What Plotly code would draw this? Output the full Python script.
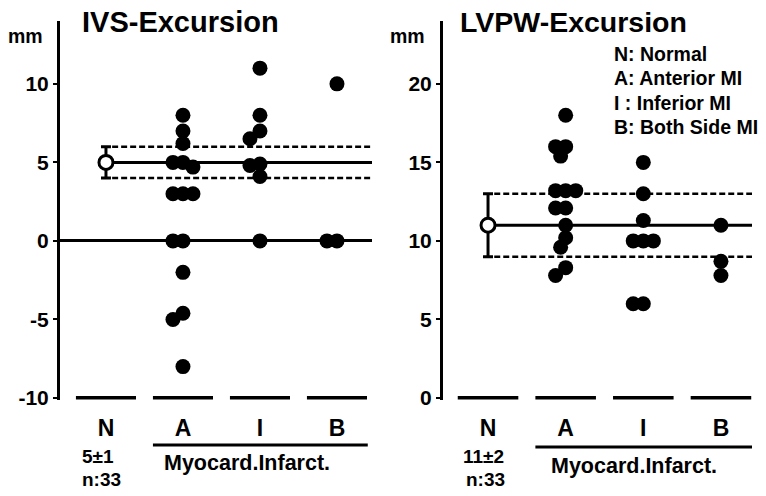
import numpy as np
import plotly.graph_objects as go

# Kategorien
categories = ["N", "A", "I", "B"]

# IVS-Excursion (mm)
ivs_normal_mean = 5
ivs_normal_sd = 1
ivs_anterior = [8, 7, 6.2, 5, 5, 4.7, 3, 3, 3, 0, 0, -2, -4.6, -5, -8]
ivs_inferior = [11, 8, 7, 6.5, 4.9, 4.8, 4.1, 0]
ivs_both = [10, 0, 0]
ivs_ticks = [-10, -5, 0, 5, 10]

# LVPW-Excursion (mm)
lvpw_normal_mean = 11
lvpw_normal_sd = 2
lvpw_anterior = [18, 16, 16, 15.4, 13.2, 13.2, 13.2, 12.1, 12.1, 11, 10.2, 9.6, 8.3, 7.8]
lvpw_inferior = [15, 13, 11.3, 10, 10, 10, 6, 6]
lvpw_both = [11, 8.7, 7.8]
lvpw_ticks = [0, 5, 10, 15, 20]

n_normal = 33
legend_lines = ["N: Normal", "A: Anterior MI", "I : Inferior MI", "B: Both Side MI"]

FONT = "Liberation Sans"
W, H = 766, 496

# Pixel-Skalen fuer den Beeswarm
PX_X = 77.0
PX_Y = 15.7
DMIN = 10.0
STEP = 5.0


def swarm(values, center):
    placed = []
    xs = []
    for v in values:
        cands = [0.0]
        for k in range(1, 12):
            cands += [-k * STEP, k * STEP]
        for off in cands:
            if all(np.hypot(off - po, (v - pv) * PX_Y) >= DMIN for po, pv in placed):
                break
        placed.append((off, v))
        xs.append(center + off / PX_X)
    return xs


def py(p):
    return 1 - p / H


def px(p):
    return p / W


def fnt(size):
    return dict(size=size, family=FONT, color="black", weight="bold")


panels = [
    dict(xa="x", ya="y", mean=ivs_normal_mean, sd=ivs_normal_sd,
         groups=[ivs_anterior, ivs_inferior, ivs_both], ymin=-10, ticks=ivs_ticks,
         xrange=[-0.597, 3.455], yrange=[-10.1, 14], xdom=[px(60), px(372)]),
    dict(xa="x2", ya="y2", mean=lvpw_normal_mean, sd=lvpw_normal_sd,
         groups=[lvpw_anterior, lvpw_inferior, lvpw_both], ymin=0, ticks=lvpw_ticks,
         xrange=[-0.58, 3.40], yrange=[-0.1, 24], xdom=[px(443), px(752)]),
]

fig = go.Figure()

for p in panels:
    x_end = p["xrange"][1]
    # Normalbereich: Mittelwert und +-SD
    fig.add_trace(go.Scatter(x=[0, x_end], y=[p["mean"]] * 2, mode="lines",
                             line=dict(color="black", width=3),
                             xaxis=p["xa"], yaxis=p["ya"], showlegend=False))
    for yv in (p["mean"] + p["sd"], p["mean"] - p["sd"]):
        fig.add_trace(go.Scatter(x=[0.08, x_end], y=[yv, yv], mode="lines",
                                 line=dict(color="black", width=2.5, dash="6px,3px"),
                                 xaxis=p["xa"], yaxis=p["ya"], showlegend=False))
    # Grundlinie unter jeder Kategorie
    bx, by = [], []
    for i in range(len(categories)):
        bx += [i - 0.39, i + 0.39, None]
        by += [p["ymin"], p["ymin"], None]
    fig.add_trace(go.Scatter(x=bx, y=by, mode="lines", line=dict(color="black", width=4),
                             xaxis=p["xa"], yaxis=p["ya"], showlegend=False))
    # Einzelwerte
    for i, vals in enumerate(p["groups"], start=1):
        fig.add_trace(go.Scatter(x=swarm(vals, i), y=vals, mode="markers",
                                 marker=dict(size=15, color="black"),
                                 xaxis=p["xa"], yaxis=p["ya"], showlegend=False))
    # Normalgruppe
    fig.add_trace(go.Scatter(x=[0], y=[p["mean"]], mode="markers",
                             marker=dict(size=14, color="white", line=dict(color="black", width=3)),
                             error_y=dict(type="constant", value=p["sd"], thickness=3, width=5,
                                          color="black"),
                             xaxis=p["xa"], yaxis=p["ya"], showlegend=False))

ydom = [0.1944, py(21)]


def xaxis(p):
    return dict(domain=p["xdom"], range=p["xrange"], tickvals=list(range(len(categories))),
                ticktext=categories, showline=False, ticks="", showgrid=False, zeroline=False,
                tickfont=fnt(23), ticklabelstandoff=12, anchor=p["ya"], automargin=False)


def yaxis(p, zero):
    return dict(domain=ydom, range=p["yrange"], tickvals=p["ticks"],
                ticktext=[str(t) for t in p["ticks"]], ticks="outside", ticklen=4, tickwidth=2,
                tickcolor="black", showline=True, linewidth=3, linecolor="black",
                showgrid=False, zeroline=zero, zerolinecolor="black", zerolinewidth=3,
                tickfont=fnt(21), anchor=p["xa"], automargin=False)


fig.update_layout(
    width=W, height=H, margin=dict(l=0, r=0, t=0, b=0, autoexpand=False),
    plot_bgcolor="white", paper_bgcolor="white",
    font=dict(family=FONT, color="black"),
    xaxis=xaxis(panels[0]), yaxis=yaxis(panels[0], True),
    xaxis2=xaxis(panels[1]), yaxis2=yaxis(panels[1], False),
)

# Linien unter "Myocard.Infarct."
fig.add_shape(type="line", xref="x", yref="paper", x0=1 - 0.39, x1=3.40, y0=py(445), y1=py(445),
              line=dict(color="black", width=3))
fig.add_shape(type="line", xref="x2", yref="paper", x0=1 - 0.39, x1=3.40, y0=py(447), y1=py(447),
              line=dict(color="black", width=3))

ann = []


def text(t, x, y, size, anchor="left"):
    ann.append(dict(text=t, x=px(x), y=py(y), xref="paper", yref="paper", showarrow=False,
                    xanchor=anchor, yanchor="middle", font=fnt(size)))


text("IVS-Excursion", 80, 22, 29)
text("LVPW-Excursion", 458, 22, 28.5)
text("mm", 6, 36, 19.5)
text("mm", 388, 36, 19.5)
text(f"{ivs_normal_mean}±{ivs_normal_sd}", 80, 456, 19)
text(f"n:{n_normal}", 80, 479, 19)
text(f"{lvpw_normal_mean}±{lvpw_normal_sd}", 461, 456, 19)
text(f"n:{n_normal}", 464, 479, 19)
text("Myocard.Infarct.", 247, 463, 21.5, "center")
text("Myocard.Infarct.", 634, 466, 21.5, "center")
for k, line in enumerate(legend_lines):
    text(line, 612, 54 + 24.3 * k, 19.5)

fig.update_layout(annotations=ann)

fig.write_html("out.html", config={"displayModeBar": False},
               post_script="document.body.style.margin='0';")
